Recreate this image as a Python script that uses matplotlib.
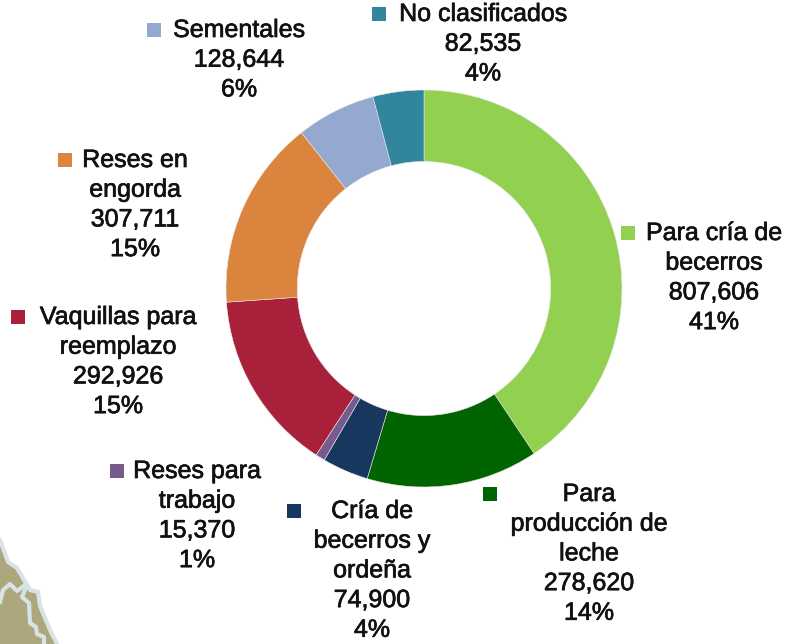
import matplotlib
matplotlib.use('Agg')
from matplotlib import pyplot as plt
from matplotlib.patches import Polygon, Rectangle
import matplotlib.patheffects as pe

plt.rcParams['font.family'] = ['Liberation Sans', 'DejaVu Sans']

categories = ['Para cría de\nbecerros', 'Para\nproducción de\nleche', 'Cría de\nbecerros y\nordeña',
              'Reses para\ntrabajo', 'Vaquillas para\nreemplazo', 'Reses en\nengorda',
              'Sementales', 'No clasificados']
values = [807606, 278620, 74900, 15370, 292926, 307711, 128644, 82535]
shares = ['41%', '14%', '4%', '1%', '15%', '15%', '6%', '4%']
colors = ['#92d050', '#006400', '#17375e', '#775a8e', '#a9203a', '#db843d', '#95a9d0', '#31859c']

# label centre x, first line y, marker x, marker y (pixels)
label_pos = [(714, 233, 628, 233), (589, 494, 490, 494), (372, 511, 294, 511), (197, 471, 117, 471),
             (118, 317, 18, 317), (135, 160, 65, 160), (239, 30, 154, 30), (483, 14, 379, 14)]
line_step = 29.7

map_fill = [(0, 540), (8, 562), (17, 568), (27, 585), (30, 590), (38, 592), (40, 606), (50, 630), (57, 644), (0, 644)]
map_border = [(0, 540), (8, 562), (17, 568), (27, 585), (30, 590), (38, 592), (40, 606), (50, 630), (57, 644)]
map_inner = [(0, 602), (3, 590), (10, 584), (17, 591), (25, 585)]
map_inner2 = [(27, 585), (22, 597), (29, 603), (30, 623), (36, 627), (37, 634), (44, 637), (44, 644)]

fig = plt.figure(figsize=(8.01, 6.44), dpi=100)

bg = fig.add_axes([0, 0, 1, 1])
bg.set_xlim(0, 801)
bg.set_ylim(644, 0)
bg.axis('off')
bg.add_patch(Polygon(map_fill, closed=True, color='#aca77c', lw=0))
for pts in [map_border, map_inner, map_inner2]:
    bg.plot([p[0] for p in pts], [p[1] for p in pts], color='#d8e3e6', lw=3)

cx, cy, rx, ry = 424, 288.5, 198, 198.5
ax = fig.add_axes([(cx - rx) / 801, 1 - (cy + ry) / 644, 2 * rx / 801, 2 * ry / 644])
ax.pie(values, colors=colors, startangle=90, counterclock=False, radius=1,
       wedgeprops=dict(width=0.36, linewidth=0.4, edgecolor='#e8e8e8'))
ax.set_aspect('auto')
ax.set_xlim(-1, 1)
ax.set_ylim(-1, 1)

for name, val, share, color, pos in zip(categories, values, shares, colors, label_pos):
    x, y, mx, my = pos
    txt = name + '\n' + format(val, ',') + '\n' + share
    for i, line in enumerate(txt.split('\n')):
        t = bg.text(x, y + i * line_step, line, ha='center', va='center', fontsize=18, color='#111111')
        t.set_path_effects([pe.withStroke(linewidth=0.5, foreground='#111111')])
    bg.add_patch(Rectangle((mx - 7, my - 7), 14, 14, color=color, lw=0))

fig.savefig('out.png', dpi=100)
